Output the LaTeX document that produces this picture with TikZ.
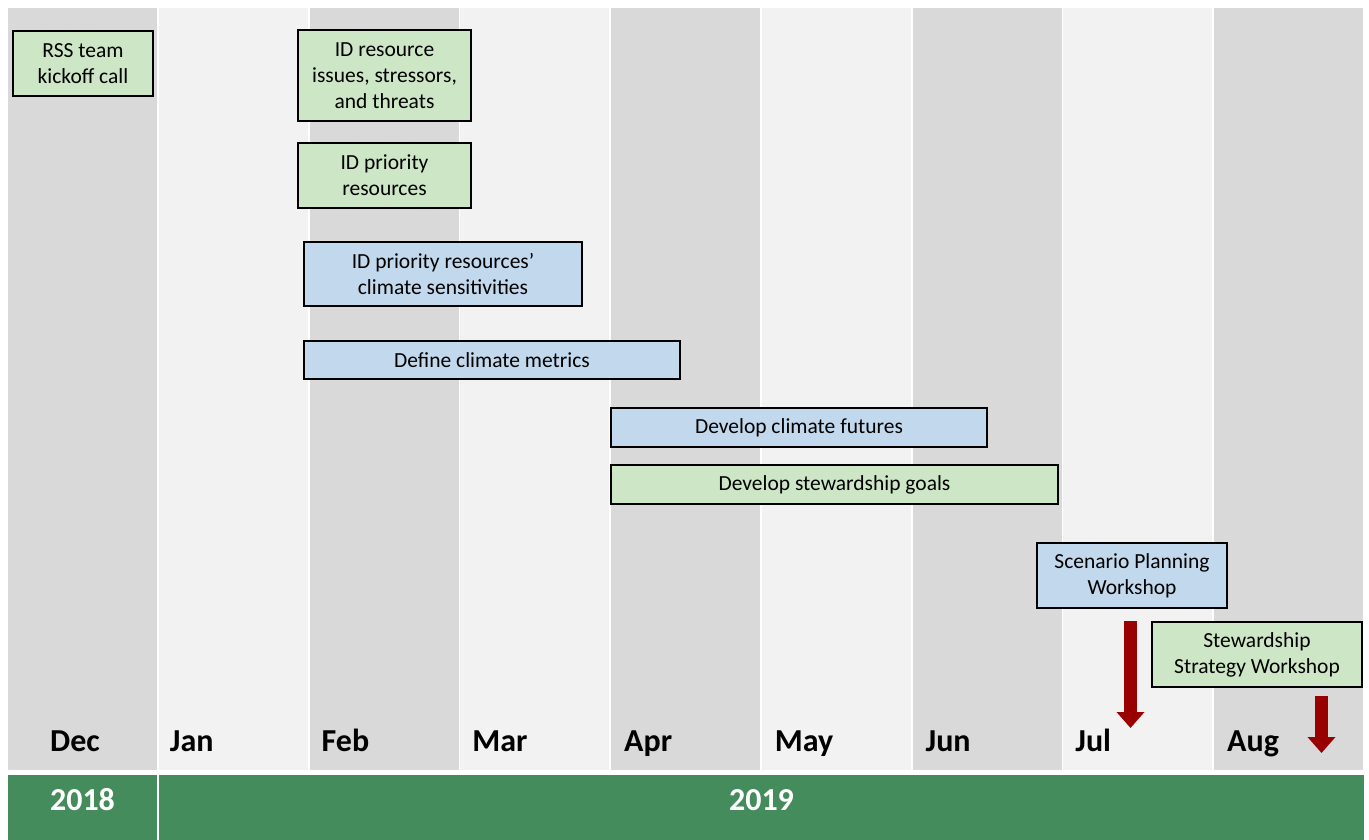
\documentclass[tikz,border=0pt]{standalone}
\usepackage{fontspec}
\setmainfont{Carlito}
\usetikzlibrary{arrows.meta,positioning}
\definecolor{darkcol}{HTML}{D9D9D9}
\definecolor{lightcol}{HTML}{F2F2F2}
\definecolor{taskgreen}{HTML}{CDE6C5}
\definecolor{taskblue}{HTML}{C2D8EC}
\definecolor{yeargreen}{HTML}{458C5D}
\definecolor{mark}{HTML}{990000}
\tikzset{x=1pt,y=-1pt,
  every node/.style={font=\fontsize{21.5}{26}\selectfont},
  task/.style={draw=black,line width=1.2pt,inner sep=0pt,align=center},
  green task/.style={task,fill=taskgreen},
  blue task/.style={task,fill=taskblue},
  month/.style={anchor=base west,inner sep=0pt,font=\fontsize{32}{36}\selectfont\bfseries},
  year/.style={text=white,font=\fontsize{32}{36}\selectfont\bfseries},
  bigarrow/.style={draw=mark,line width=13pt,-{Triangle[width=27pt,length=16pt]}}}
\begin{document}
\begin{tikzpicture}
\useasboundingbox (0,0) rectangle (1369,840);
\fill[white] (0,0) rectangle (1369,840);
% month columns
\foreach \i/\m/\d in {0/Dec/42,1/Jan/11,2/Feb/12,3/Mar/12,4/Apr/13,5/May/13,6/Jun/13,7/Jul/12,8/Aug/13}{
\pgfmathsetmacro{\xl}{8+150.75*\i}
\ifodd\i \def\shade{lightcol}\else\def\shade{darkcol}\fi
\fill[\shade] (\xl,8) rectangle ++(149,762);
\node[month] (m\i) at (\xl+\d,751) {\m};
}
% years
\fill[yeargreen] (8,775) rectangle (157,840);
\fill[yeargreen] (159,775) rectangle (1364,840);
\node[year] (y2018) at (82.5,800) {2018};
\node[year] (y2019) at (761.5,800) {2019};
% tasks
\node[green task,minimum width=140pt,minimum height=65pt] (kick) at (83,63.5) {RSS team\\kickoff call};
\node[green task,minimum width=173pt,minimum height=91pt] (issues) at (384.5,75.5) {ID resource\\issues, stressors,\\and threats};
\node[green task,minimum width=173pt,minimum height=65pt] (prio) at (384.5,175.5) {ID priority\\resources};
\node[blue task,minimum width=278pt,minimum height=64pt] (sens) at (443,274) {ID priority resources'\\climate sensitivities};
\node[blue task,minimum width=376pt,minimum height=38pt] (metrics) at (492,360) {Define climate metrics};
\node[blue task,minimum width=376pt,minimum height=39pt] (futures) at (799,427.5) {Develop climate futures};
\node[green task,minimum width=447pt,minimum height=39pt] (goals) at (834.5,484.5) {Develop stewardship goals};
\node[blue task,minimum width=190pt,minimum height=65pt] (spw) at (1132,575.5) {Scenario Planning\\Workshop};
\node[green task,minimum width=210pt,minimum height=65pt] (ssw) at (1257,654.5) {Stewardship\\Strategy Workshop};
% workshop markers
\coordinate (a1s) at (1130.5,621);
\coordinate (a1e) at (1130.5,728);
\coordinate (a2s) at (1321.5,696);
\coordinate (a2e) at (1321.5,753);
\draw[bigarrow] (a1s) -- (a1e);
\draw[bigarrow] (a2s) -- (a2e);
\end{tikzpicture}
\end{document}
